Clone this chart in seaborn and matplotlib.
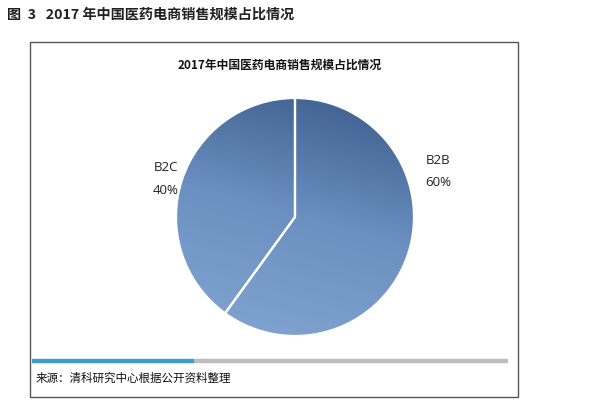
import numpy as np
import matplotlib
matplotlib.use("Agg")
import matplotlib.pyplot as plt
from matplotlib.patches import Rectangle
import seaborn as sns

# 数据
labels = ["B2B", "B2C"]
shares = [60, 40]
fig_title = "图  3   2017 年中国医药电商销售规模占比情况"
chart_title = "2017年中国医药电商销售规模占比情况"
source = "来源：清科研究中心根据公开资料整理"

sns.set_theme(style="white")
plt.rcParams['font.family'] = ['Noto Sans CJK SC', 'DejaVu Sans']

fig = plt.figure(figsize=(5.95, 4.0), dpi=100)
fig.patch.set_facecolor("white")

# 外框
fig.add_artist(Rectangle((30 / 595, 1 - 397 / 400), 488 / 595, 355 / 400,
                         transform=fig.transFigure, fill=False,
                         edgecolor="#555555", linewidth=1.0))

# 标题
fig.text(7 / 595, 1 - 15 / 400, fig_title, fontsize=10.2, fontweight="bold",
         color="#222222", va="center", ha="left")
fig.text(280 / 595, 1 - 65 / 400, chart_title, fontsize=8.5, fontweight="bold",
         color="#111111", va="center", ha="center")

# 饼图
ax = fig.add_axes([(295 - 119) / 595, 1 - (217 + 119) / 400, 238 / 595, 238 / 400])
wedges, _ = ax.pie(shares, startangle=90, counterclock=False,
                   wedgeprops=dict(edgecolor="white", linewidth=1.6))
ax.set_aspect("equal")
ax.set_xlim(-1, 1)
ax.set_ylim(-1, 1)
ax.axis("off")

# 渐变填充
cmap = sns.blend_palette(["#83a6d2", "#6b90c1", "#3a5a8a"], as_cmap=True)
yy, xx = np.mgrid[-1:1:200j, -1:1:200j]
grad = (yy * 0.9 + xx * 0.25)
for w in wedges:
    w.set_facecolor("none")
    im = ax.imshow(grad, extent=[-1, 1, -1, 1], origin="lower", cmap=cmap,
                   zorder=0.5, aspect="auto")
    im.set_clip_path(w)
    w.set_zorder(1)

# 标签
lab_font = ["Open Sans", "DejaVu Sans"]
fig.text(438 / 595, 1 - 160 / 400, labels[0], fontsize=9.5, color="#222222",
         ha="center", va="center", family=lab_font)
fig.text(438 / 595, 1 - 183 / 400, f"{shares[0]}%", fontsize=9.5, color="#222222",
         ha="center", va="center", family=lab_font)
fig.text(166 / 595, 1 - 168 / 400, labels[1], fontsize=9.5, color="#222222",
         ha="center", va="center", family=lab_font)
fig.text(166 / 595, 1 - 191 / 400, f"{shares[1]}%", fontsize=9.5, color="#222222",
         ha="center", va="center", family=lab_font)

# 分隔条
fig.add_artist(plt.Line2D([32 / 595, 194 / 595], [1 - 361 / 400] * 2,
                          transform=fig.transFigure, color="#3f9bd3", linewidth=3.2,
                          solid_capstyle="butt"))
fig.add_artist(plt.Line2D([194 / 595, 508 / 595], [1 - 361 / 400] * 2,
                          transform=fig.transFigure, color="#bdbdbd", linewidth=3.2,
                          solid_capstyle="butt"))

# 来源
fig.text(36 / 595, 1 - 378 / 400, source, fontsize=8.3, color="#111111",
         ha="left", va="center")

fig.savefig("out.png", dpi=100, facecolor="white")
